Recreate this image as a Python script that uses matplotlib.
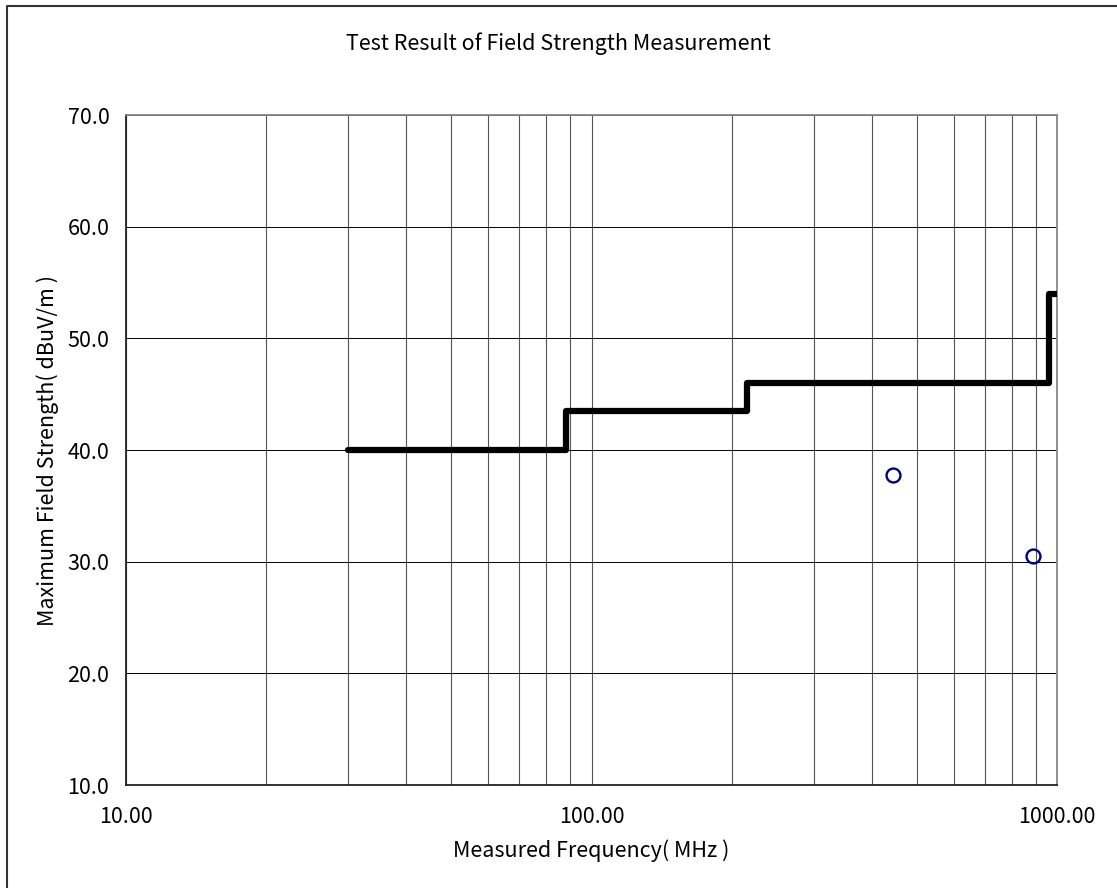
import matplotlib
matplotlib.use("Agg")
import matplotlib.pyplot as plt
from matplotlib.lines import Line2D
from matplotlib.ticker import FixedLocator, NullFormatter, NullLocator

plt.rcParams['font.family'] = ['Noto Sans CJK JP', 'DejaVu Sans']

# Limit line (step): frequency breakpoints and levels
limit_freq = [30, 88, 88, 216, 216, 960, 960, 1000]
limit_level = [40.0, 40.0, 43.5, 43.5, 46.0, 46.0, 54.0, 54.0]

# Measured points
meas_freq = [445, 887]
meas_level = [37.8, 30.5]

x_ticks = [10, 100, 1000]
x_ticklabels = ["10.00", "100.00", "1000.00"]
y_ticks = [10, 20, 30, 40, 50, 60, 70]
y_ticklabels = ["10.0", "20.0", "30.0", "40.0", "50.0", "60.0", "70.0"]
minor_x = [20, 30, 40, 50, 60, 70, 80, 90, 200, 300, 400, 500, 600, 700, 800, 900]

FS = 15.5

fig = plt.figure(figsize=(11.17, 8.88), dpi=100)
ax = fig.add_axes([126/1117, 103/888, (1057-126)/1117, (785-115)/888])

ax.set_xscale('log')
ax.set_xlim(10, 1000)
ax.set_ylim(10, 70)

ax.xaxis.set_major_locator(FixedLocator(x_ticks))
ax.set_xticklabels(x_ticklabels)
ax.xaxis.set_minor_locator(FixedLocator(minor_x))
ax.xaxis.set_minor_formatter(NullFormatter())
ax.set_yticks(y_ticks)
ax.set_yticklabels(y_ticklabels)
ax.yaxis.set_minor_locator(NullLocator())

ax.grid(True, which='both', axis='x', color='#555555', linewidth=0.8)
ax.grid(True, which='major', axis='y', color='#000000', linewidth=0.7)
ax.set_axisbelow(True)

ax.tick_params(axis='both', which='both', length=0, labelsize=FS, colors='black')
ax.tick_params(axis='x', pad=15)
ax.tick_params(axis='y', pad=12)

for s in ['left', 'bottom']:
    ax.spines[s].set_color('#222222')
    ax.spines[s].set_linewidth(1.3)
for s in ['top', 'right']:
    ax.spines[s].set_color('#888888')
    ax.spines[s].set_linewidth(1.3)

ax.plot(limit_freq, limit_level, color='black', linewidth=4.5,
        solid_capstyle='round', solid_joinstyle='round', zorder=3)
ax.plot(meas_freq, meas_level, linestyle='none', marker='o', markersize=10,
        markerfacecolor='none', markeredgecolor='#000080', markeredgewidth=1.7, zorder=4)

ax.set_xlabel("Measured Frequency( MHz )", fontsize=FS, labelpad=8)
ax.set_ylabel("Maximum Field Strength( dBuV/m )", fontsize=FS, labelpad=6)

fig.text(0.5, 1 - 44/888, "Test Result of Field Strength Measurement",
         ha='center', va='center', fontsize=FS)

# Outer frame (left and top edges visible)
fig.add_artist(Line2D([7/1117, 7/1117, 1.0], [0.0, 1 - 6/888, 1 - 6/888],
                      transform=fig.transFigure, color='#333333', linewidth=1.5))

fig.savefig("out.png", dpi=100)
